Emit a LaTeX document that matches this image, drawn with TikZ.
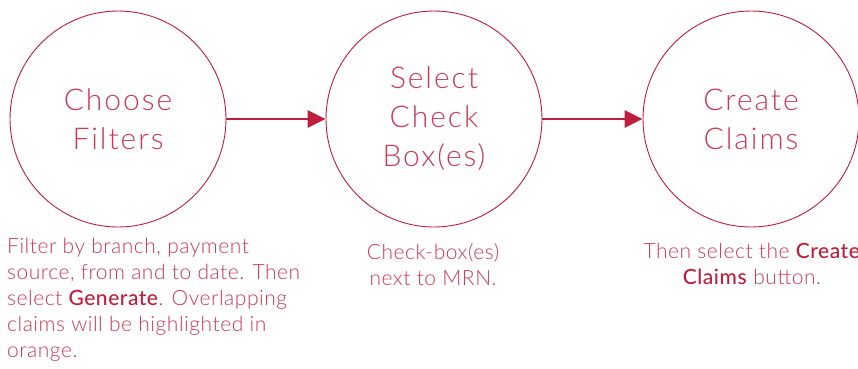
\documentclass[tikz,border=0pt]{standalone}
\usepackage{fontspec}
\setmainfont{Lato}[UprightFont=* Light, BoldFont=* Medium]
\usetikzlibrary{arrows.meta}

\definecolor{stepred}{HTML}{BE1E3C}
\definecolor{notered}{HTML}{C93A55}

\tikzset{
  stepcircle/.style={circle, draw=stepred, line width=0.9pt, minimum size=216pt,
    inner sep=0pt, text=notered, align=center,
    font=\fontsize{30}{39}\selectfont\addfontfeatures{LetterSpace=6.5}},
  flow/.style={-{Triangle[length=18pt,width=17pt]}, line width=2.6pt, draw=stepred},
  note/.style={text=notered, inner sep=0pt,
    font=\fontsize{21}{26}\selectfont\addfontfeatures{LetterSpace=2.5}},
}
\newcommand{\hl}[1]{\textcolor{stepred}{\textbf{#1}}}

\begin{document}
\begin{tikzpicture}[x=1pt,y=-1pt]
  \useasboundingbox (0,0) rectangle (858,368);
  % the three steps
  \node[stepcircle] (choose) at (118,119) {Choose\\Filters};
  \node[stepcircle] (select) at (434,119) {Select\\Check\\Box(es)};
  \node[stepcircle] (create) at (751,119) {Create\\Claims};
  \draw[flow] (choose) -- (select);
  \draw[flow] (select) -- (create);
  % notes under each step
  \node[note, align=left, anchor=west] (filternote) at (7,300)
    {Filter by branch, payment\\source, from and to date. Then\\select \hl{Generate}. Overlapping\\claims will be highlighted in\\orange.};
  \node[note, align=center] (checknote) at (433,265) {Check-box(es)\\next to MRN.};
  \node[note, align=center] (createnote) at (752,264) {Then select the \hl{Create}\\\hl{Claims} button.};
\end{tikzpicture}
\end{document}
